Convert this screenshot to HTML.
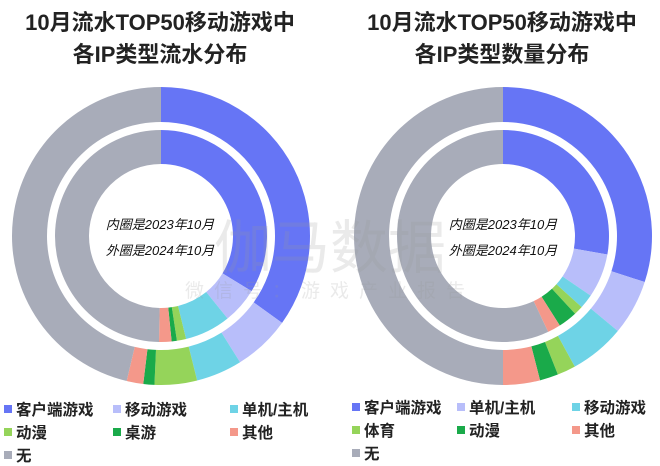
<!DOCTYPE html>
<html><head><meta charset="utf-8"><style>
body{margin:0;background:#fff;}
svg{display:block;font-family:"Liberation Sans","Noto Sans CJK SC",sans-serif;}
</style></head><body>
<svg id="c" width="660" height="466" viewBox="0 0 660 466">
<g font-size="22" font-weight="bold" fill="#222" text-anchor="middle">
<text x="160" y="30">10月流水TOP50移动游戏中</text><text x="160" y="62">各IP类型流水分布</text></g>
<g font-size="22" font-weight="bold" fill="#222" text-anchor="middle">
<text x="502" y="30">10月流水TOP50移动游戏中</text><text x="502" y="62">各IP类型数量分布</text></g>
<g id="donuts"></g>
<g fill="#999" opacity="0.2" text-anchor="middle">
<text x="330" y="268" font-size="58">伽马数据</text>
<text x="330" y="297" font-size="19" letter-spacing="10">微信号：游戏产业报告</text></g>
<g id="legend"></g>
</svg>
<script>
const colors=["#6675f5","#b8befa","#6ed3e6","#95d45a","#1aaa4a","#f4988a","#a8acb9"];
const leftCategories=["客户端游戏","移动游戏","单机/主机","动漫","桌游","其他","无"];
const leftOuter2024=[34.9,6.2,5.0,4.6,1.2,1.8,46.3];
const leftInner2023=[33.7,5.5,7.0,1.4,0.8,1.9,49.7];
const rightCategories=["客户端游戏","单机/主机","移动游戏","体育","动漫","其他","无"];
const rightOuter2024=[30,6,6,2,2,4,50];
const rightInner2023=[27.8,6.7,2.2,1.4,2.9,2,57];
const NS="http://www.w3.org/2000/svg";
const g=document.getElementById('donuts');
function arc(cx,cy,r0,r1,a0,a1){
 const p=(r,a)=>[cx+r*Math.sin(a),cy-r*Math.cos(a)];
 const l=(a1-a0)>Math.PI?1:0;
 const [x0,y0]=p(r1,a0),[x1,y1]=p(r1,a1),[x2,y2]=p(r0,a1),[x3,y3]=p(r0,a0);
 return `M${x0},${y0}A${r1},${r1} 0 ${l} 1 ${x1},${y1}L${x2},${y2}A${r0},${r0} 0 ${l} 0 ${x3},${y3}Z`;
}
function ring(vals,cats,cx,cy,r0,r1,name){
 const tot=vals.reduce((a,b)=>a+b,0);let a=0;
 vals.forEach((v,i)=>{
  const a0=a/tot*2*Math.PI;a+=v;const a1=a/tot*2*Math.PI;
  const el=document.createElementNS(NS,'path');
  el.setAttribute('d',arc(cx,cy,r0,r1,a0,a1));el.setAttribute('fill',colors[i]);
  
  
  g.appendChild(el);
 });
}
ring(leftOuter2024,leftCategories,161,236,114,149,'left-outer-slice');
ring(leftInner2023,leftCategories,161,236,72,106,'left-inner-slice');
ring(rightOuter2024,rightCategories,503,236,114,149,'right-outer-slice');
ring(rightInner2023,rightCategories,503,236,72,106,'right-inner-slice');
function centerText(cx,name){
 [["内圈是2023年10月",229],["外圈是2024年10月",255]].forEach(([t,y])=>{
  const el=document.createElementNS(NS,'text');
  el.setAttribute('x',cx);el.setAttribute('y',y);el.setAttribute('text-anchor','middle');
  el.setAttribute('font-size','13');el.setAttribute('font-style','italic');el.setAttribute('fill','#111');
  el.textContent=t;
  
  
  g.appendChild(el);
 });
}
centerText(160,'left-center-label');centerText(503,'right-center-label');
const lg=document.getElementById('legend');
function legend(cats,xs,ys){
 cats.forEach((c,i)=>{
  const x=xs[i%3],y=ys[Math.floor(i/3)];
  const grp=document.createElementNS(NS,'g');
  
  
  const r=document.createElementNS(NS,'rect');
  r.setAttribute('x',x);r.setAttribute('y',y-4);r.setAttribute('width',8);r.setAttribute('height',8);r.setAttribute('fill',colors[i]);
  const t=document.createElementNS(NS,'text');
  t.setAttribute('x',x+12);t.setAttribute('y',y+6);t.setAttribute('font-size','15.5');t.setAttribute('font-weight','bold');t.setAttribute('fill','#222');
  t.textContent=c;
  grp.appendChild(r);grp.appendChild(t);lg.appendChild(grp);
 });
}
legend(leftCategories,[4,113,230],[409,432,455]);
legend(rightCategories,[352,457,572],[407,430,453]);
</script>
</body></html>
